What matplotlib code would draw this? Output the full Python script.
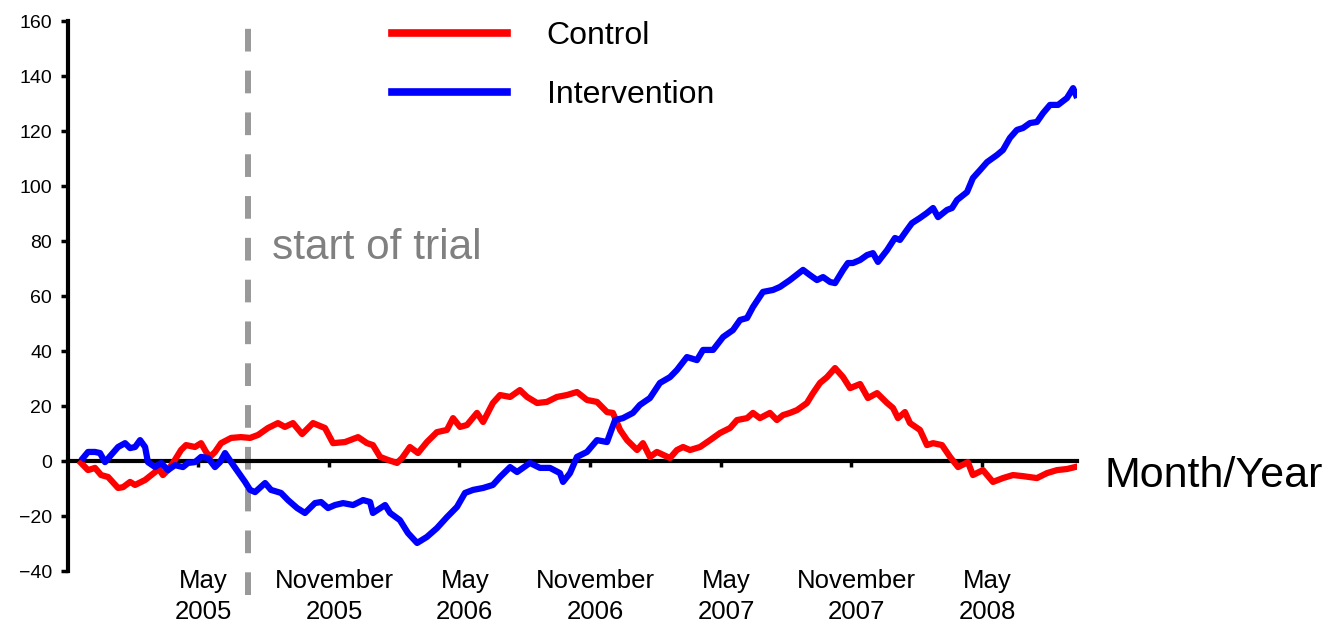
import numpy as np
import matplotlib.pyplot as plt
import matplotlib.transforms as mtransforms

plt.rcParams['font.family'] = ['Liberation Sans', 'DejaVu Sans']

# months counted from Jan 2005 (May 2005 = 4)
ctrl_m = [-1.37, -1.05, -0.73, -0.45, -0.13, 0.33, 0.56, 0.88, 1.11, 1.57, 2.03, 2.16, 2.39, 2.62,
          2.94, 3.22, 3.45, 3.86, 4.14, 4.37, 4.55, 4.78, 5.06, 5.52, 5.97, 6.39, 6.76, 7.21, 7.67,
          7.99, 8.36, 8.78, 9.28, 9.83, 10.20, 10.75, 11.35, 11.76, 12.03, 12.36, 12.72, 13.14,
          13.37, 13.73, 14.10, 14.51, 14.97, 15.43, 15.71, 16.03, 16.35, 16.81, 17.09, 17.54,
          17.87, 18.33, 18.78, 19.11, 19.57, 20.02, 20.48, 20.94, 21.40, 21.86, 22.32, 22.78,
          23.05, 23.38, 23.70, 24.16, 24.43, 24.75, 25.07, 25.67, 25.99, 26.27, 26.59, 27.05,
          27.51, 27.97, 28.43, 28.75, 29.21, 29.48, 29.80, 30.26, 30.58, 30.86, 31.18, 31.50,
          31.96, 32.24, 32.56, 32.88, 33.25, 33.62, 33.94, 34.40, 34.76, 35.18, 35.64, 35.91,
          36.14, 36.46, 36.69, 37.15, 37.47, 37.75, 38.16, 38.53, 38.90, 39.35, 39.58, 40.04,
          40.50, 40.96, 41.42, 41.88, 42.52, 42.98, 43.44, 43.90, 44.27]
ctrl_v = [-0.7, -3.3, -2.5, -5.1, -5.8, -9.8, -9.5, -7.6, -8.7, -6.9, -4.0, -2.5, -5.1, -3.3,
          0.4, 4.0, 5.8, 5.1, 6.5, 3.3, 1.5, 3.3, 6.5, 8.4, 8.7, 8.4, 9.5, 12.0, 13.8,
          12.4, 13.8, 9.8, 13.8, 12.0, 6.5, 6.9, 8.7, 6.5, 5.8, 1.5, 0.4, -0.7,
          1.1, 5.1, 2.9, 6.9, 10.5, 11.3, 15.6, 12.4, 13.1, 17.5, 14.2, 21.1,
          24.0, 23.3, 25.8, 23.3, 21.1, 21.5, 23.3, 24.0, 25.1, 22.2, 21.5, 17.8,
          17.5, 11.3, 7.6, 4.0, 6.5, 1.5, 3.3, 1.1, 4.0, 5.1, 4.0, 5.1,
          7.6, 10.2, 12.0, 14.9, 15.6, 17.5, 15.6, 17.5, 14.9, 16.7, 17.5, 18.5,
          21.1, 24.7, 28.4, 30.5, 33.8, 30.5, 26.5, 28.0, 22.9, 24.7, 21.1, 19.3,
          15.6, 17.8, 13.8, 11.3, 5.8, 6.5, 5.8, 1.5, -2.2, -0.4, -5.1, -3.3,
          -7.6, -6.2, -5.1, -5.5, -6.2, -4.4, -3.3, -2.9, -2.2]

int_m = [-1.28, -1.05, -0.73, -0.50, -0.27, 0.01, 0.33, 0.65, 0.88, 1.11, 1.34, 1.57, 1.70,
         2.03, 2.30, 2.62, 2.94, 3.31, 3.54, 3.86, 4.14, 4.46, 4.78, 5.01, 5.24, 5.52, 5.84,
         6.16, 6.39, 6.62, 7.08, 7.35, 7.81, 8.13, 8.55, 8.91, 9.37, 9.65, 9.97, 10.29, 10.66,
         11.12, 11.58, 11.90, 12.03, 12.59, 12.82, 13.27, 13.64, 14.06, 14.51, 14.97, 15.43,
         15.89, 16.26, 16.63, 17.09, 17.54, 17.87, 18.33, 18.65, 18.92, 19.24, 19.70, 20.16,
         20.62, 20.76, 21.08, 21.40, 21.86, 22.32, 22.78, 23.15, 23.51, 23.97, 24.29, 24.75,
         25.21, 25.67, 25.99, 26.45, 26.91, 27.19, 27.65, 28.11, 28.56, 28.89, 29.21, 29.48,
         29.94, 30.40, 30.72, 31.18, 31.78, 32.10, 32.42, 32.70, 33.02, 33.25, 33.62, 33.84,
         34.07, 34.40, 34.72, 34.99, 35.22, 35.64, 36.00, 36.23, 36.55, 36.78, 37.15, 37.47,
         37.75, 37.98, 38.39, 38.62, 38.85, 39.31, 39.58, 39.91, 40.23, 40.69, 40.96, 41.28,
         41.60, 41.88, 42.20, 42.52, 42.80, 43.12, 43.49, 43.90, 44.18, 44.31]
int_v = [1.1, 3.3, 3.3, 2.9, -0.4, 2.2, 5.1, 6.5, 4.7, 5.1, 7.6, 5.1, -0.4,
         -2.2, -0.7, -3.3, -1.5, -2.2, -0.7, -0.4, 1.5, 1.1, -2.2, -0.4, 2.9, -0.4, -4.0,
         -7.6, -10.5, -11.3, -8.0, -10.5, -11.6, -14.2, -17.1, -18.9, -15.3, -14.9, -17.1, -16.0, -15.3,
         -16.0, -14.2, -14.9, -18.9, -16.0, -18.9, -21.5, -26.2, -29.8, -27.6, -24.4, -20.4,
         -16.7, -11.6, -10.5, -9.8, -8.7, -5.8, -2.2, -4.0, -2.5, -0.7, -2.5, -2.5,
         -4.4, -7.6, -4.4, 1.5, 3.3, 7.6, 6.9, 14.9, 15.6, 17.5, 20.4, 22.9,
         28.4, 30.5, 33.1, 37.8, 36.7, 40.4, 40.4, 45.1, 47.6, 51.3, 52.0, 56.0,
         61.5, 62.2, 63.3, 65.8, 69.5, 67.6, 65.8, 66.9, 65.1, 64.7, 69.5, 72.0,
         72.0, 73.1, 74.9, 75.6, 72.4, 76.7, 81.1, 80.4, 84.0, 86.5, 88.4, 90.2,
         92.0, 88.7, 91.3, 92.0, 94.9, 97.8, 102.9, 105.8, 108.7, 111.3, 113.1, 117.5,
         120.4, 121.1, 122.9, 123.3, 126.5, 129.5, 129.5, 132.0, 135.6, 133.1]

tick_months = [4, 10, 16, 22, 28, 34, 40]
tick_names = ['May', 'November', 'May', 'November', 'May', 'November', 'May']
tick_years = ['2005', '2005', '2006', '2006', '2007', '2007', '2008']
trial_start = 6.3

fig = plt.figure(figsize=(13.28, 6.24), dpi=100)
ax = fig.add_axes([0.0512, 0.0849, 0.7598, 0.8814])

ax.plot(ctrl_m, ctrl_v, color='#ff0000', lw=4.5, solid_joinstyle='round', label='Control', zorder=3)
ax.plot(int_m, int_v, color='#0000ff', lw=4.5, solid_joinstyle='round', label='Intervention', zorder=3)

ax.axvline(trial_start, ymin=-0.0435, ymax=0.989, color='#999999', lw=4.3,
           ls=(0, (3.8, 3.2)), clip_on=False, zorder=2)
ax.text(trial_start + 1.1, 73.5, 'start of trial', color='#808080', fontsize=30.5, va='baseline')

ax.set_xlim(-1.97, 44.36)
ax.set_ylim(-40, 160)
ax.set_yticks(np.arange(-40, 161, 20))
ax.tick_params(axis='y', labelsize=14, length=5, width=2.5, pad=6.5)
ax.set_xticks(tick_months)
ax.set_xticklabels([])
ax.tick_params(axis='x', length=4, width=2.5, direction='out')

for s in ['top', 'right']:
    ax.spines[s].set_visible(False)
ax.spines['left'].set_linewidth(3)
ax.spines['bottom'].set_linewidth(3)
ax.spines['bottom'].set_position(('data', 0))
ax.spines['bottom'].set_zorder(2.5)

trans = mtransforms.blended_transform_factory(ax.transData, ax.transAxes)
for m, name, yr in zip(tick_months, tick_names, tick_years):
    ax.text(m + 0.25, -0.031, name, transform=trans, ha='center', va='baseline', fontsize=18.5)
    ax.text(m + 0.25, -0.088, yr, transform=trans, ha='center', va='baseline', fontsize=18.5)

ax.text(45.64, -9.45, 'Month/Year', fontsize=31, va='baseline', ha='left')

ax.legend(loc='upper left', bbox_to_anchor=(0.321, 1.0), frameon=False, fontsize=23,
          handlelength=3.6, handletextpad=1.25, labelspacing=0.9, borderpad=0, borderaxespad=0)
for h in ax.get_legend().get_lines():
    h.set_linewidth(5.5)

fig.savefig('out.png', dpi=100)
plt.close()
